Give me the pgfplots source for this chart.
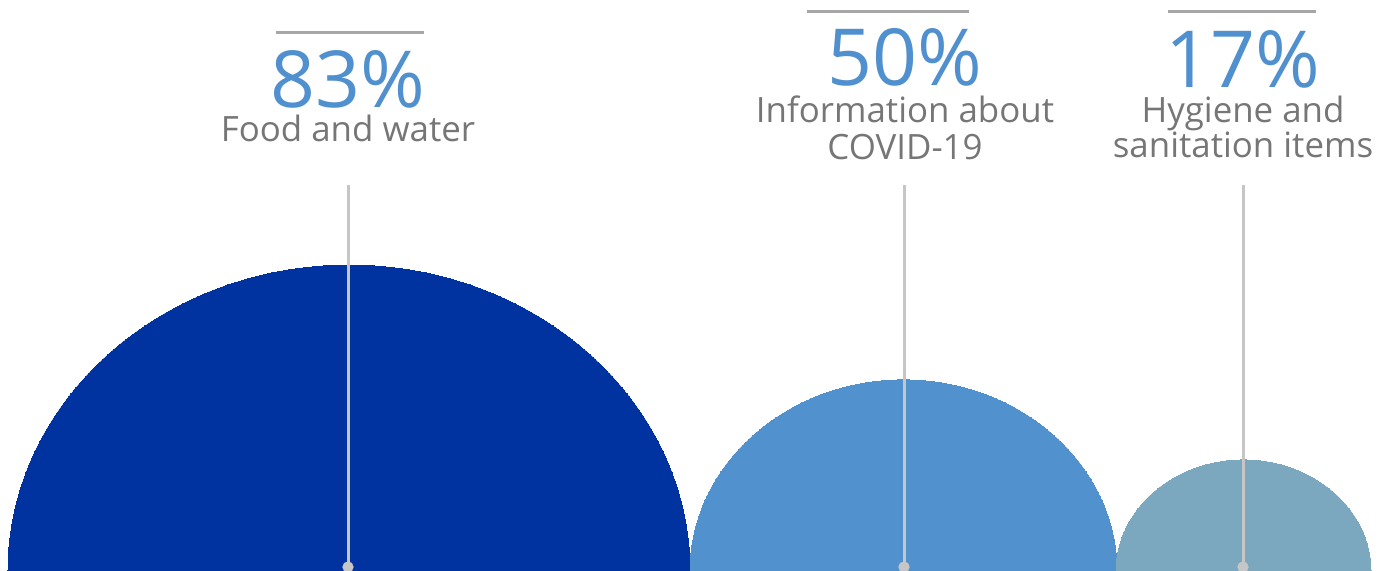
\documentclass[border=0pt]{standalone}
\usepackage{pgfplots}
\pgfplotsset{compat=1.18}
\usepackage{fontspec}
\setmainfont{Open Sans}
\definecolor{cdark}{HTML}{0033A0}
\definecolor{cmid}{HTML}{5191CD}
\definecolor{cteal}{HTML}{7BA8BE}
\definecolor{cpct}{HTML}{5090CE}
\definecolor{clab}{HTML}{767676}
\definecolor{cvline}{HTML}{C6C6C6}
\definecolor{chline}{HTML}{A6A6A6}
\tikzset{
  pct/.style={anchor=base, text=cpct, inner sep=0pt, text depth=0pt, text height=28bp, font=\fontsize{39.5}{39.5}\selectfont},
  lab/.style={anchor=base, text=clab, inner sep=0pt, text depth=0pt, text height=12.5bp, font=\fontsize{17.5}{17.5}\selectfont},
}
\begin{document}
\begin{tikzpicture}
\begin{axis}[
  width=690.5bp, height=285.5bp, scale only axis,
  xmin=0, xmax=1381, ymin=0, ymax=571,
  hide axis, clip marker paths=true,
]
% half ellipses (marks clipped at the bottom edge)
\addplot[only marks, color=cdark, mark=*, mark size=170.5bp, mark options={draw=cdark, line width=0pt, fill=cdark, yscale=0.897}] coordinates {(349,0)};
\addplot[only marks, color=cmid, mark=*, mark size=106.75bp, mark options={draw=cmid, line width=0pt, fill=cmid, yscale=0.895}] coordinates {(903.5,0)};
\addplot[only marks, color=cteal, mark=*, mark size=63.75bp, mark options={draw=cteal, line width=0pt, fill=cteal, yscale=0.871}] coordinates {(1243.5,0)};
% leader lines
\addplot[cvline, line width=1.5bp, mark=none] coordinates {(348,4) (348,386)};
\addplot[cvline, line width=1.5bp, mark=none] coordinates {(904,4) (904,386)};
\addplot[cvline, line width=1.5bp, mark=none] coordinates {(1243,4) (1243,386)};
\addplot[only marks, color=cvline, mark=*, mark size=2.6bp, mark options={draw=cvline, fill=cvline}] coordinates {(348,4) (904,4) (1243,4)};
% top rules
\addplot[chline, line width=1.5bp, mark=none] coordinates {(276,538) (424,538)};
\addplot[chline, line width=1.5bp, mark=none] coordinates {(807,559) (969,559)};
\addplot[chline, line width=1.5bp, mark=none] coordinates {(1168,559) (1316,559)};
% texts
\node[pct] at (axis cs:348,463) {83\%};
\node[pct] at (axis cs:905,485) {50\%};
\node[pct] at (axis cs:1243,483) {17\%};
\node[lab] at (axis cs:348,429) {Food and water};
\node[lab] at (axis cs:905,448) {Information about};
\node[lab] at (axis cs:905,411) {COVID-19};
\node[lab] at (axis cs:1243,448) {Hygiene and};
\node[lab] at (axis cs:1243,413) {sanitation items};
\end{axis}
\pgfresetboundingbox
\useasboundingbox (current axis.south west) rectangle (current axis.north east);
\end{tikzpicture}
\end{document}
